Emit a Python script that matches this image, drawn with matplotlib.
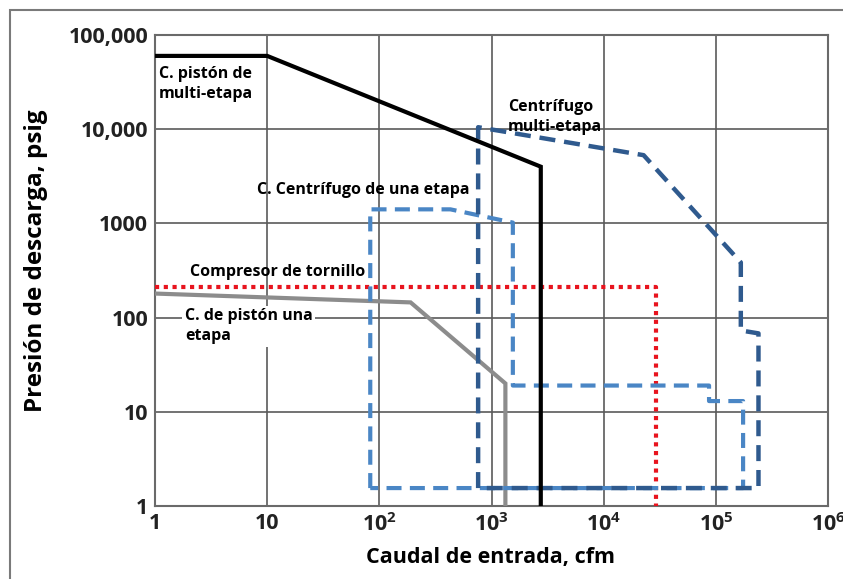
import matplotlib.pyplot as plt
from matplotlib.patches import Rectangle

# Datos (caudal en cfm, presion en psig)
piston_multi_x = [1, 10, 2750, 2750]
piston_multi_y = [60000, 60000, 4000, 1]

piston_una_x = [1, 190, 1330, 1330]
piston_una_y = [180, 145, 20, 1]

tornillo_x = [1, 29000, 29000]
tornillo_y = [210, 210, 1]

centr_una_x = [83, 83, 430, 1550, 1550, 87000, 87000, 175000, 175000, 83]
centr_una_y = [1.55, 1410, 1410, 1020, 19, 19, 13, 13, 1.55, 1.55]

centr_multi_x = [760, 760, 22700, 167000, 167000, 240000, 240000, 760]
centr_multi_y = [1.55, 10500, 5300, 385, 73, 68, 1.55, 1.55]

yticks = [1, 10, 100, 1000, 10000, 100000]
ytick_labels = ['1', '10', '100', '1000', '10,000', '100,000']
xticks = [1, 10, 1e2, 1e3, 1e4, 1e5, 1e6]
xtick_labels = ['1', '10', '10$^2$', '10$^3$', '10$^4$', '10$^5$', '10$^6$']

plt.rcParams['font.family'] = ['Open Sans', 'DejaVu Sans']
plt.rcParams['mathtext.fontset'] = 'custom'
plt.rcParams['mathtext.rm'] = 'Open Sans:bold'

fig = plt.figure(figsize=(8.43, 5.79), dpi=100)
ax = fig.add_axes([155 / 843, 1 - 506 / 579, 673 / 843, 471 / 579])

# marco exterior
fig.patches.append(Rectangle((10 / 843, -0.1), 1.2, 1 - 10 / 579 + 0.1, transform=fig.transFigure,
                             fill=False, edgecolor='#7a7a7a', linewidth=1.5))

ax.set_xscale('log')
ax.set_yscale('log')
ax.set_xlim(1, 1e6)
ax.set_ylim(1, 1e5)

ax.grid(True, which='major', color='#5a5a5a', linewidth=1.2)
ax.minorticks_off()
for s in ax.spines.values():
    s.set_color('#6a6a6a')
    s.set_linewidth(1.5)

ax.plot(tornillo_x, tornillo_y, color='#e8141e', linewidth=3, linestyle=(0, (1, 1.1)), zorder=3)
ax.plot(piston_una_x, piston_una_y, color='#8c8c8c', linewidth=3, solid_joinstyle='miter', zorder=3)
ax.plot(piston_multi_x, piston_multi_y, color='black', linewidth=3, solid_joinstyle='miter', zorder=4)
ax.plot(centr_una_x, centr_una_y, color='#4a86c5', linewidth=3, linestyle=(0, (3.6, 2)), zorder=3)
ax.plot(centr_multi_x, centr_multi_y, color='#2f5a8e', linewidth=3.2, linestyle=(0, (3.6, 2)), zorder=3)

ax.set_xticks(xticks)
ax.set_xticklabels(xtick_labels)
ax.set_yticks(yticks)
ax.set_yticklabels(ytick_labels)
ax.tick_params(length=0, labelsize=15.5, pad=5)
for lab in ax.get_xticklabels() + ax.get_yticklabels():
    lab.set_fontweight('bold')
    lab.set_color('#222222')

ax.set_xlabel('Caudal de entrada, cfm', fontsize=15.5, fontweight='bold', va='center')
ax.set_ylabel('Presión de descarga, psig', fontsize=17.5, fontweight='bold', va='center')
ax.xaxis.set_label_coords((490 - 155) / 673, (506 - 558) / 471)
ax.yaxis.set_label_coords((36 - 155) / 673, (506 - 261) / 471)

tkw = dict(fontsize=11.5, fontweight='bold', color='black', linespacing=1.3, zorder=6)
ax.text(1.08, 30000, 'C. pistón de\nmulti-etapa', va='center', ha='left', **tkw)
ax.text(1400, 13500, 'Centrífugo\nmulti-etapa', va='center', ha='left', **tkw)
ax.text(8.1, 2260, 'C. Centrífugo de una etapa', va='center', ha='left', **tkw)
ax.text(2.05, 305, 'Compresor de tornillo', va='center', ha='left', **tkw)
ax.text(1.85, 81, 'C. de pistón una\netapa', va='center', ha='left',
        bbox=dict(facecolor='white', edgecolor='none', pad=2), **tkw)

plt.savefig('out.png', dpi=100)
